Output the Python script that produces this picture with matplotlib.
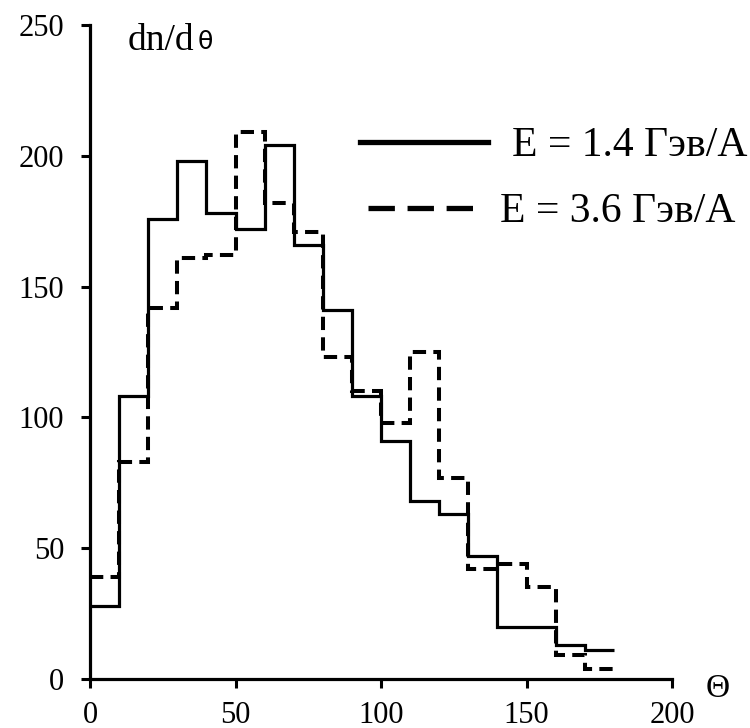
import matplotlib
matplotlib.use("Agg")
import matplotlib.pyplot as plt
from matplotlib.lines import Line2D

# Angular distribution, 10-degree bins from 0 to 180
bin_edges = list(range(0, 190, 10))
dn_low = [28, 108, 176, 198, 178, 172, 204, 166, 141, 108,
          91, 68, 63, 47, 20, 20, 13, 11]        # E = 1.4 GeV/A
dn_high = [39, 83, 142, 161, 162, 209, 182, 171, 123, 110,
           98, 125, 77, 42, 44, 35, 9, 4]        # E = 3.6 GeV/A
labels = ["E = 1.4 Гэв/А", "E = 3.6 Гэв/А"]
x_ticks = [0, 50, 100, 150, 200]
y_ticks = [0, 50, 100, 150, 200, 250]

plt.rcParams["font.family"] = ["Liberation Serif", "DejaVu Serif"]

W, H = 750, 728
fig = plt.figure(figsize=(W / 100, H / 100), dpi=100)
ax = fig.add_axes([90 / W, 1 - 679 / H, 582 / W, 654 / H])

solid_style = dict(color="black", lw=2.3, linestyle="-")
dash_style = dict(color="black", lw=2.9, linestyle=(0, (3.3, 1.8)))
ax.stairs(dn_low, bin_edges, baseline=None, **solid_style)
ax.stairs(dn_high, bin_edges, baseline=None, **dash_style)

ax.set_xlim(0, 200)
ax.set_ylim(0, 250)
ax.set_xticks(x_ticks)
ax.set_yticks(y_ticks)
ax.tick_params(axis="both", direction="out", length=6.5, width=2.2,
               labelsize=22, color="black")
ax.tick_params(axis="y", pad=12)
ax.tick_params(axis="x", pad=9)
for side in ("top", "right"):
    ax.spines[side].set_visible(False)
for side in ("left", "bottom"):
    ax.spines[side].set_linewidth(2.3)

# y-axis title: dn/dθ
t_dn = ax.text(128 / W, 1 - 50 / H, "dn/d", transform=fig.transFigure,
               fontsize=27, va="baseline", ha="left")
ax.annotate("θ", xy=(1, 0), xycoords=t_dn, xytext=(2, 3),
            textcoords="offset points", fontsize=18, va="bottom",
            ha="left", family=["DejaVu Sans"])
# x-axis title
ax.text(718 / W, 1 - 689 / H, "Θ", transform=fig.transFigure,
        fontsize=24, ha="center", va="center")

# two single-entry legends, each placed on its own
leg1 = ax.legend([Line2D([], [], color="black", lw=3.8)], labels[:1],
                 loc="center left", bbox_to_anchor=(360 / W, 1 - 146 / H),
                 bbox_transform=fig.transFigure, frameon=False, fontsize=30,
                 handlelength=3.08, handletextpad=0.58, borderpad=0,
                 borderaxespad=0)
ax.add_artist(leg1)
ax.legend([Line2D([], [], color="black", lw=3.8, linestyle=(0, (5, 2.4)))],
          labels[1:], loc="center left",
          bbox_to_anchor=(368 / W, 1 - 212 / H),
          bbox_transform=fig.transFigure, frameon=False, fontsize=30,
          handlelength=2.64, handletextpad=0.53, borderpad=0,
          borderaxespad=0)

fig.savefig("out.png", dpi=100)
